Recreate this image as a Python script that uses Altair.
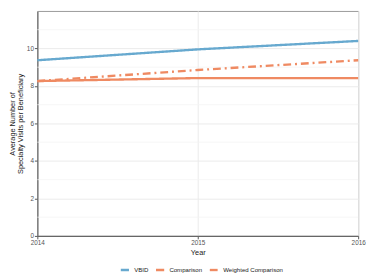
import altair as alt
import pandas as pd

years = [2014, 2015, 2016]
vbid = [9.37, 9.95, 10.40]
comparison = [8.26, 8.42, 8.42]
weighted = [8.26, 8.85, 9.37]
series = ["VBID", "Comparison", "Weighted Comparison"]
colors = ["#67a9cf", "#ef8a62", "#ef8a62"]
dashes = [[1, 0], [1, 0], [8, 4, 2, 4]]
minor_y = [1, 3, 5, 7, 9, 11]

rows = []
for name, vals in zip(series, [vbid, comparison, weighted]):
    for y, v in zip(years, vals):
        rows.append({"Year": y, "Value": v, "Series": name})
df = pd.DataFrame(rows)
minor_df = pd.DataFrame({"m": minor_y})

FONT = "Liberation Sans"

yscale = alt.Scale(domain=[0, 12], nice=False)

minor = alt.Chart(minor_df).mark_rule(color="#f4f4f4", strokeWidth=0.8).encode(
    y=alt.Y("m:Q", scale=yscale)
)

lines = alt.Chart(df).mark_line(strokeWidth=2.4).encode(
    x=alt.X("Year:O", scale=alt.Scale(type="point", padding=0),
            axis=alt.Axis(title="Year", labelAngle=0, labelOverlap=False, grid=True,
                          gridColor="#ebebeb", tickColor="#555", tickSize=3,
                          labelPadding=1, titlePadding=3)),
    y=alt.Y("Value:Q", scale=yscale,
            axis=alt.Axis(values=[0, 2, 4, 6, 8, 10], title=["Average Number of", "Specialty Visits per Beneficiary"],
                          gridColor="#ebebeb", tickColor="#555", tickSize=3,
                          labelPadding=1, titlePadding=2, titleLineHeight=8.5)),
    color=alt.Color("Series:N", scale=alt.Scale(domain=series, range=colors),
                    legend=alt.Legend(title=None, orient="none", direction="horizontal",
                                      legendX=84, legendY=259,
                                      symbolType="stroke", symbolStrokeWidth=2.4,
                                      symbolSize=70, labelFontSize=6.2, labelColor="#222",
                                      columnPadding=2, labelOffset=4, labelFont=FONT)),
    strokeDash=alt.StrokeDash("Series:N", scale=alt.Scale(domain=series, range=dashes),
                              legend=None),
)

chart = alt.layer(minor, lines).properties(
    width=328, height=230, padding={"left": 0, "top": 0, "right": 0, "bottom": 0},
    background="white"
).configure_view(stroke="#999", strokeWidth=1).configure_axis(
    labelFont=FONT, titleFont=FONT, labelFontSize=6.5, titleFontSize=7.5,
    labelColor="#555", titleColor="#222", titleFontWeight="normal",
    domainColor="#666", domainWidth=1.2
)

chart.save("out.html", embed_options={"renderer": "svg", "actions": False})
